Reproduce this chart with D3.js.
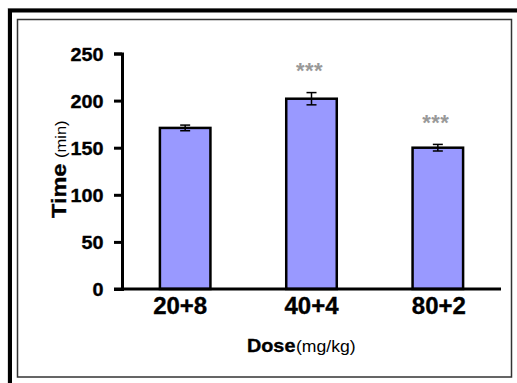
<!DOCTYPE html>
<html>
<head>
<meta charset="utf-8">
<script src="https://cdn.jsdelivr.net/npm/d3@7"></script>
<style>
  html, body { margin: 0; padding: 0; background: #fff; }
  svg { display: block; }
  text { font-family: "Liberation Sans", Arial, sans-serif; }
</style>
</head>
<body>
<svg id="chart" width="517" height="383"></svg>
<script>
// ---- data ----
const categories = ["20+8", "40+4", "80+2"];
const means = [171, 202, 150];
const errors = [3, 6.5, 3.5];
const significance = ["", "***", "***"];
const yTicks = [0, 50, 100, 150, 200, 250];

const svg = d3.select("#chart");
const W = 517, H = 383;

svg.append("rect").attr("x", 0).attr("y", 0).attr("width", W).attr("height", H).attr("fill", "#fff");

// outer frame (runs off right/bottom)
svg.append("rect").attr("x", 8).attr("y", 8.5).attr("width", 560).attr("height", 420)
  .attr("fill", "none").attr("stroke", "#bbb").attr("stroke-width", 1);
svg.append("rect").attr("x", 10).attr("y", 10.5).attr("width", 560).attr("height", 420)
  .attr("fill", "none").attr("stroke", "#000").attr("stroke-width", 4);
// inner frame
svg.append("rect").attr("x", 17.5).attr("y", 19.5).attr("width", 494).attr("height", 357.5)
  .attr("fill", "#fff").attr("stroke", "#333").attr("stroke-width", 1.5);

const x = d3.scaleBand().domain(categories).range([122, 501]).paddingInner(0.6).paddingOuter(0.3);
const y = d3.scaleLinear().domain([0, 250]).range([289, 53.5]);

// bars
svg.append("g").selectAll("rect").data(categories).join("rect")
  .attr("x", d => x(d))
  .attr("y", (d, i) => y(means[i]))
  .attr("width", x.bandwidth())
  .attr("height", (d, i) => y(0) - y(means[i]))
  .attr("fill", "#9999ff")
  .attr("stroke", "#000")
  .attr("stroke-width", 2.5);

// error bars
const eg = svg.append("g").attr("stroke", "#000").attr("stroke-width", 1.5);
categories.forEach((c, i) => {
  const cx = x(c) + x.bandwidth() / 2;
  const top = y(means[i] + errors[i]), bot = y(means[i] - errors[i]);
  eg.append("line").attr("x1", cx).attr("x2", cx).attr("y1", top).attr("y2", bot);
  eg.append("line").attr("x1", cx - 5).attr("x2", cx + 5).attr("y1", top).attr("y2", top);
  eg.append("line").attr("x1", cx - 5).attr("x2", cx + 5).attr("y1", bot).attr("y2", bot);
});

// significance stars
svg.append("g").selectAll("text").data(categories).join("text")
  .attr("x", d => x(d) + x.bandwidth() / 2 - 2)
  .attr("y", (d, i) => y(means[i] + errors[i]) - 27 + 12.6)
  .attr("text-anchor", "middle")
  .attr("font-size", 22)
  .attr("font-weight", "bold")
  .attr("letter-spacing", 0.5)
  .attr("fill", "#999")
  .text((d, i) => significance[i]);

const heavy = sel => sel.attr("stroke", "#000").attr("stroke-width", 0.35).attr("paint-order", "stroke");

// y axis
const yAxis = svg.append("g").attr("transform", "translate(122,0)")
  .call(d3.axisLeft(y).tickValues(yTicks).tickSize(8).tickSizeOuter(8).tickPadding(0));
yAxis.select(".domain").attr("stroke", "#000").attr("stroke-width", 3);
yAxis.selectAll(".tick line").attr("stroke", "#000").attr("stroke-width", 3);
yAxis.selectAll(".tick text")
  .attr("x", 0).attr("dy", "0.35em").attr("y", 0.5)
  .attr("transform", "translate(-18.5,0) scale(1.07,1)")
  .attr("text-anchor", "end")
  .attr("font-size", 18.5).attr("font-weight", "bold")
  .attr("font-family", "Liberation Sans, Arial, sans-serif")
  .attr("fill", "#000")
  .call(heavy);

// x axis
const xAxis = svg.append("g").attr("transform", "translate(0,289)")
  .call(d3.axisBottom(x).tickSize(0).tickSizeOuter(0).tickPadding(0));
xAxis.select(".domain").attr("stroke", "#000").attr("stroke-width", 3)
  .attr("d", "M114,0H501");
xAxis.selectAll(".tick text")
  .attr("y", 0).attr("dy", 0)
  .attr("x", (d, i) => i === 0 ? -5 : (i === 2 ? 1 : 0))
  .attr("transform", "translate(0,24.5)")
  .attr("text-anchor", "middle")
  .attr("font-size", 24).attr("font-weight", "bold")
  .attr("font-family", "Liberation Sans, Arial, sans-serif")
  .attr("fill", "#000")
  .call(heavy);

// x title
svg.append("text").attr("transform", "translate(247,352) scale(1.1,1)")
  .attr("font-size", 18).attr("font-weight", "bold").text("Dose").call(heavy);
svg.append("text").attr("transform", "translate(296,352) scale(1.1,1)")
  .attr("font-size", 16).text("(mg/kg)");

// y title
const yt = svg.append("g").attr("transform", "translate(66,218) rotate(-90)");
yt.append("text").attr("transform", "scale(1.12,1)")
  .attr("font-size", 21).attr("font-weight", "bold").text("Time").call(heavy);
yt.append("text").attr("transform", "translate(60,0) scale(1.1,1)")
  .attr("font-size", 15).text("(min)");
</script>
</body>
</html>
